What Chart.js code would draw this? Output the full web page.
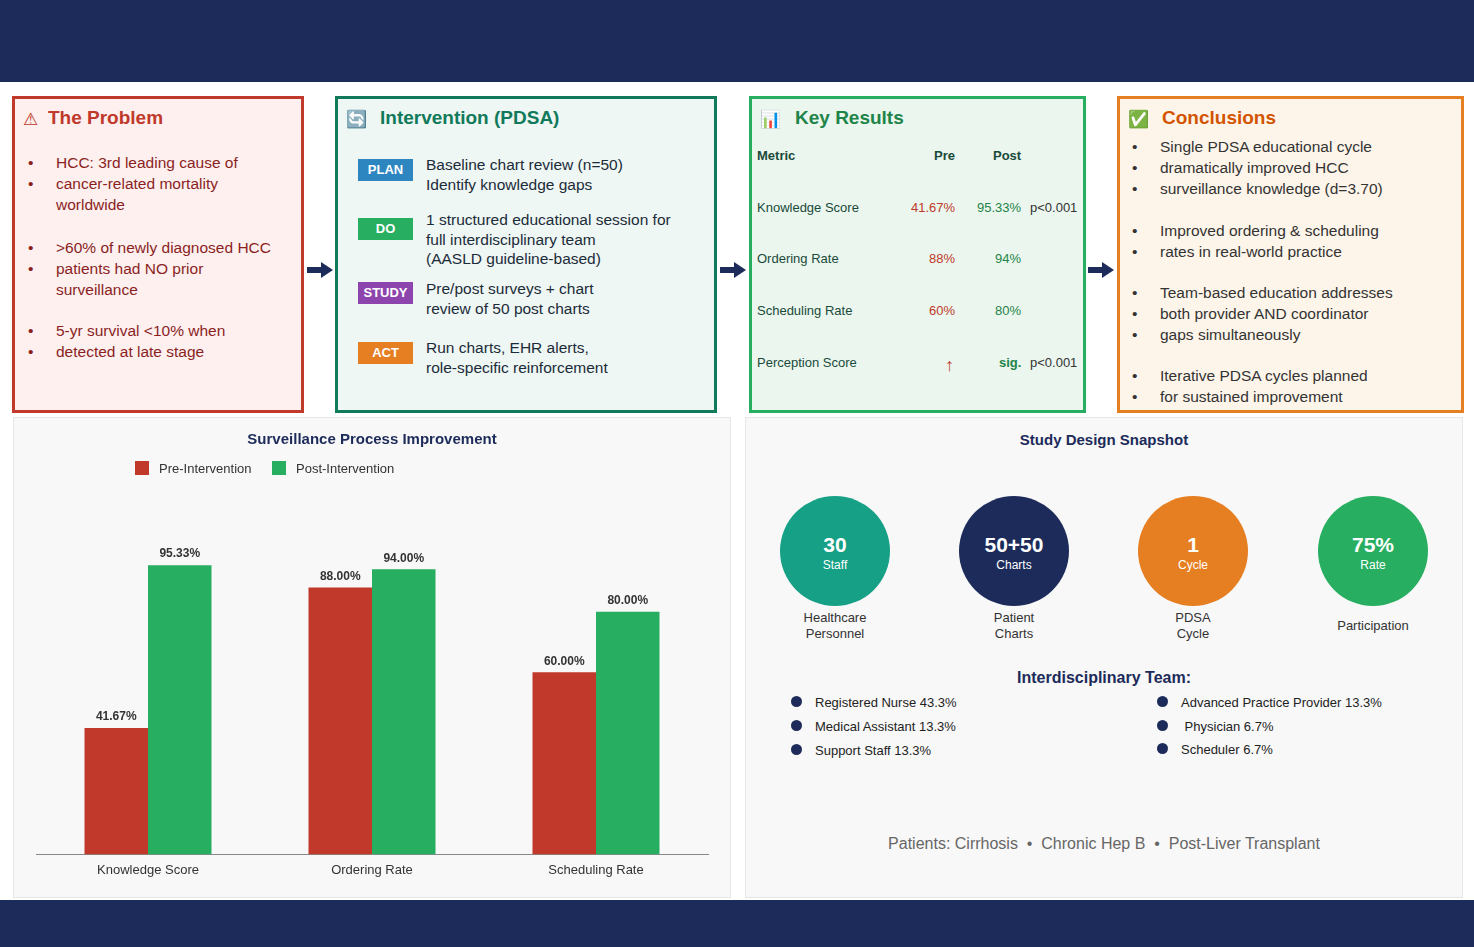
<!DOCTYPE html>
<html>
<head>
<meta charset="utf-8">
<script src="https://cdn.jsdelivr.net/npm/chart.js@4"></script>
<style>
  body { margin: 0; width: 1474px; height: 947px; position: relative; background: #fff; font-family: "Liberation Sans", Arial, sans-serif; overflow: hidden; }
  .band { position: absolute; left: 0; width: 1474px; background: #1c2b5a; }
  .box { position: absolute; box-sizing: border-box; border: 3px solid; }
  .box h2 { margin: 0; position: absolute; left: 33px; top: 8px; font-size: 19px; font-weight: bold; }
  .box .ic { position: absolute; left: 8px; top: 10px; font-size: 17px; }
  .bul { position: absolute; font-size: 15.5px; line-height: 21px; }
  .bul div { position: relative; padding-left: 28px; }
  .bul div.b::before { content: "\2022"; position: absolute; left: 0; }
  .arrow { position: absolute; top: 262px; width: 0; height: 0; }
  .arrow::before { content: ""; position: absolute; left: 0; top: 5px; width: 16px; height: 6px; background: #1c2b5a; }
  .arrow::after { content: ""; position: absolute; left: 14px; top: 0; border-left: 12px solid #1c2b5a; border-top: 8px solid transparent; border-bottom: 8px solid transparent; }
  .tag { position: absolute; left: 20px; width: 55px; height: 22px; color: #fff; font-weight: bold; font-size: 13px; text-align: center; line-height: 22px; }
  .step { position: absolute; left: 88px; font-size: 15.5px; line-height: 19.5px; color: #1c2b3a; }
  .kr { position: absolute; font-size: 13px; }
  .panel { position: absolute; box-sizing: border-box; background: #f8f8f8; border: 1px solid #e6e6e6; }
  .circ { position: absolute; width: 110px; height: 110px; border-radius: 55px; color: #fff; text-align: center; }
  .circ b { display: block; font-size: 21px; margin-top: 37px; }
  .circ span { display: block; font-size: 12px; margin-top: 1px; }
  .clab { position: absolute; width: 140px; text-align: center; font-size: 13px; color: #333; line-height: 16px; }
  .team { position: absolute; font-size: 13px; color: #222; }
  .team::before { content: ""; position: absolute; left: -24px; top: 1px; width: 11px; height: 11px; border-radius: 6px; background: #1c2b5a; }
  .leg { position: absolute; top: 43px; font-size: 13px; color: #333; }
  .leg i { display: inline-block; width: 14px; height: 14px; vertical-align: -2px; margin-right: 10px; }
</style>
</head>
<body>
<div class="band" style="top:0;height:82px"></div>
<div class="band" style="top:900px;height:47px"></div>

<div class="box" style="left:12px;top:96px;width:292px;height:317px;border-color:#c0392b;background:#fdf0ef;color:#a5281b">
  <span class="ic" style="color:#c0392b">&#9888;</span><h2 style="color:#c0392b">The Problem</h2>
  <div class="bul" style="left:13px;top:53px;color:#8b1f1f">
    <div class="b">HCC: 3rd leading cause of</div>
    <div class="b">cancer-related mortality</div>
    <div>worldwide</div>
    <div style="height:22px"></div>
    <div class="b">&gt;60% of newly diagnosed HCC</div>
    <div class="b">patients had NO prior</div>
    <div>surveillance</div>
    <div style="height:20px"></div>
    <div class="b">5-yr survival &lt;10% when</div>
    <div class="b">detected at late stage</div>
  </div>
</div>
<div class="arrow" style="left:307px"></div>

<div class="box" style="left:335px;top:96px;width:382px;height:317px;border-color:#117a5b;background:#eef7f3">
  <span class="ic" style="color:#3a7bd5">&#128260;</span><h2 style="left:42px;color:#117a5b">Intervention (PDSA)</h2>
  <div class="tag" style="top:60px;background:#2e86c1">PLAN</div>
  <div class="step" style="top:56px">Baseline chart review (n=50)<br>Identify knowledge gaps</div>
  <div class="tag" style="top:119px;background:#27ae60">DO</div>
  <div class="step" style="top:111px">1 structured educational session for<br>full interdisciplinary team<br>(AASLD guideline-based)</div>
  <div class="tag" style="top:183px;background:#8e44ad">STUDY</div>
  <div class="step" style="top:180px">Pre/post surveys + chart<br>review of 50 post charts</div>
  <div class="tag" style="top:243px;background:#e67e22">ACT</div>
  <div class="step" style="top:239px">Run charts, EHR alerts,<br>role-specific reinforcement</div>
</div>
<div class="arrow" style="left:720px"></div>

<div class="box" style="left:749px;top:96px;width:337px;height:317px;border-color:#27ae60;background:#eaf6ee">
  <span class="ic">&#128202;</span><h2 style="left:43px;color:#1e8449">Key Results</h2>
  <div class="kr" style="left:5px;top:49px;font-weight:bold;color:#1a4a3a">Metric</div>
  <div class="kr" style="left:182px;top:49px;font-weight:bold;color:#1a4a3a">Pre</div>
  <div class="kr" style="left:241px;top:49px;font-weight:bold;color:#1a4a3a">Post</div>
  <div class="kr" style="left:5px;top:101px;color:#1a4a3a">Knowledge Score</div>
  <div class="kr" style="left:159px;top:101px;color:#c0392b">41.67%</div>
  <div class="kr" style="left:225px;top:101px;color:#1e8449">95.33%</div>
  <div class="kr" style="left:278px;top:101px;color:#333">p&lt;0.001</div>
  <div class="kr" style="left:5px;top:152px;color:#1a4a3a">Ordering Rate</div>
  <div class="kr" style="left:177px;top:152px;color:#c0392b">88%</div>
  <div class="kr" style="left:243px;top:152px;color:#1e8449">94%</div>
  <div class="kr" style="left:5px;top:204px;color:#1a4a3a">Scheduling Rate</div>
  <div class="kr" style="left:177px;top:204px;color:#c0392b">60%</div>
  <div class="kr" style="left:243px;top:204px;color:#1e8449">80%</div>
  <div class="kr" style="left:5px;top:256px;color:#1a4a3a">Perception Score</div>
  <div class="kr" style="left:193px;top:256px;color:#c0392b;font-size:18px">&#8593;</div>
  <div class="kr" style="left:247px;top:256px;color:#1e8449;font-weight:bold">sig.</div>
  <div class="kr" style="left:278px;top:256px;color:#333">p&lt;0.001</div>
</div>
<div class="arrow" style="left:1088px"></div>

<div class="box" style="left:1117px;top:96px;width:347px;height:317px;border-color:#e67e22;background:#fef5ea">
  <span class="ic" style="color:#2ecc71">&#9989;</span><h2 style="left:42px;color:#d35400">Conclusions</h2>
  <div class="bul" style="left:12px;top:37px;color:#333">
    <div class="b">Single PDSA educational cycle</div>
    <div class="b">dramatically improved HCC</div>
    <div class="b">surveillance knowledge (d=3.70)</div>
    <div style="height:21px"></div>
    <div class="b">Improved ordering &amp; scheduling</div>
    <div class="b">rates in real-world practice</div>
    <div style="height:20px"></div>
    <div class="b">Team-based education addresses</div>
    <div class="b">both provider AND coordinator</div>
    <div class="b">gaps simultaneously</div>
    <div style="height:20px"></div>
    <div class="b">Iterative PDSA cycles planned</div>
    <div class="b">for sustained improvement</div>
  </div>
</div>

<div class="panel" style="left:13px;top:417px;width:718px;height:481px">
  <canvas id="barChart" width="716" height="479" style="width:716px;height:479px"></canvas>
  <div class="leg" style="left:121px"><i style="background:#c0392b"></i>Pre-Intervention</div>
  <div class="leg" style="left:258px"><i style="background:#27ae60"></i>Post-Intervention</div>
</div>

<div class="panel" style="left:745px;top:417px;width:718px;height:481px">
  <div style="position:absolute;left:0;width:716px;top:13px;text-align:center;font-weight:bold;font-size:15px;color:#1c2b5a">Study Design Snapshot</div>
  <div class="circ" style="left:34px;top:78px;background:#16a085"><b>30</b><span>Staff</span></div>
  <div class="circ" style="left:213px;top:78px;background:#1c2b5a"><b>50+50</b><span>Charts</span></div>
  <div class="circ" style="left:392px;top:78px;background:#e67e22"><b>1</b><span>Cycle</span></div>
  <div class="circ" style="left:572px;top:78px;background:#27ae60"><b>75%</b><span>Rate</span></div>
  <div class="clab" style="left:19px;top:192px">Healthcare<br>Personnel</div>
  <div class="clab" style="left:198px;top:192px">Patient<br>Charts</div>
  <div class="clab" style="left:377px;top:192px">PDSA<br>Cycle</div>
  <div class="clab" style="left:557px;top:200px">Participation</div>
  <div style="position:absolute;left:0;width:716px;top:251px;text-align:center;font-weight:bold;font-size:16px;color:#1c2b5a">Interdisciplinary Team:</div>
  <div class="team" style="left:69px;top:277px">Registered Nurse 43.3%</div>
  <div class="team" style="left:69px;top:301px">Medical Assistant 13.3%</div>
  <div class="team" style="left:69px;top:325px">Support Staff 13.3%</div>
  <div class="team" style="left:435px;top:277px">Advanced Practice Provider 13.3%</div>
  <div class="team" style="left:435px;top:301px">&nbsp;Physician 6.7%</div>
  <div class="team" style="left:435px;top:324px">Scheduler 6.7%</div>
  <div style="position:absolute;left:0;width:716px;top:417px;text-align:center;font-size:16px;color:#666">Patients: Cirrhosis &nbsp;&bull;&nbsp; Chronic Hep B &nbsp;&bull;&nbsp; Post-Liver Transplant</div>
</div>

<script>
const categories = ['Knowledge Score', 'Ordering Rate', 'Scheduling Rate'];
const preValues = [41.67, 88.0, 60.0];
const postValues = [95.33, 94.0, 80.0];
const seriesNames = ['Pre-Intervention', 'Post-Intervention'];

// etiquetas encima de cada barra
const valueLabels = {
  id: 'valueLabels',
  afterDatasetsDraw(chart) {
    const ctx = chart.ctx;
    ctx.save();
    ctx.font = 'bold 12px "Liberation Sans", Arial, sans-serif';
    ctx.fillStyle = '#333';
    ctx.textAlign = 'center';
    ctx.textBaseline = 'bottom';
    chart.data.datasets.forEach((ds, i) => {
      chart.getDatasetMeta(i).data.forEach((bar, j) => {
        ctx.fillText(ds.data[j].toFixed(2) + '%', bar.x, bar.y - 5);
      });
    });
    ctx.restore();
  }
};

new Chart(document.getElementById('barChart'), {
  type: 'bar',
  data: {
    labels: categories,
    datasets: [
      { label: seriesNames[0], data: preValues, backgroundColor: '#c0392b' },
      { label: seriesNames[1], data: postValues, backgroundColor: '#27ae60' }
    ]
  },
  options: {
    responsive: false,
    animation: false,
    layout: { padding: { left: 22, right: 22, bottom: 16, top: 0 } },
    datasets: { bar: { categoryPercentage: 0.567, barPercentage: 1 } },
    plugins: {
      title: { display: true, text: 'Surveillance Process Improvement', color: '#1c2b5a',
        font: { size: 15, weight: 'bold', family: '"Liberation Sans", Arial' }, padding: { top: 13, bottom: 102 } },
      legend: { display: false },
      tooltip: { enabled: false }
    },
    scales: {
      y: { display: false, min: 0, max: 100, afterFit(s) { s.width = 0; } },
      x: { grid: { display: false, drawTicks: true, tickLength: 5 }, border: { color: '#888' },
        ticks: { color: '#333', font: { size: 13, family: '"Liberation Sans", Arial' } } }
    }
  },
  plugins: [valueLabels]
});
</script>
</body>
</html>
